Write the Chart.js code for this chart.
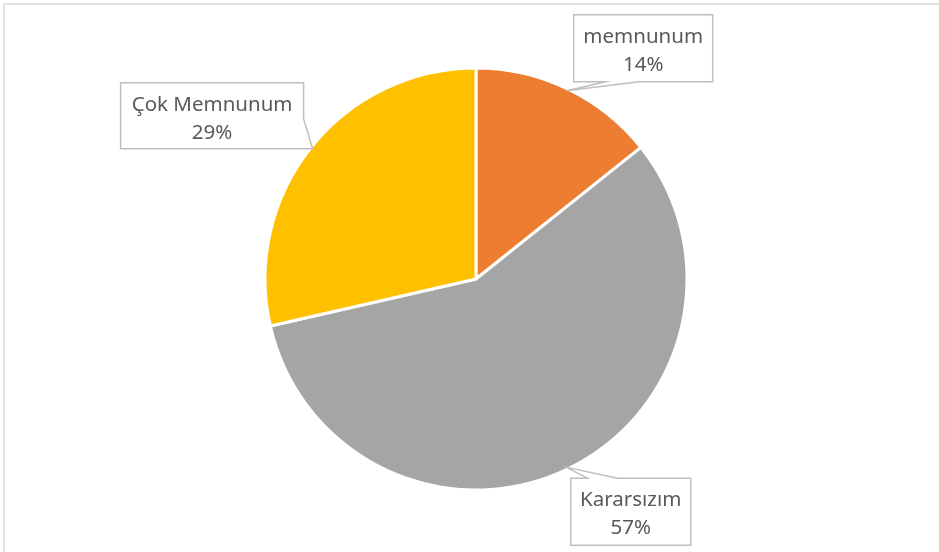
<!DOCTYPE html>
<html>
<head>
<meta charset="utf-8">
<script src="https://cdn.jsdelivr.net/npm/chart.js@4"></script>
<style>
  html, body { margin: 0; padding: 0; background: #fff; }
  #wrap { width: 939px; height: 552px; position: relative; }
</style>
</head>
<body>
<div id="wrap"><canvas id="pieChart"></canvas></div>
<script>
// Data
const categories = ["memnunum", "Kararsızım", "Çok Memnunum"];
const counts = [1, 4, 2];
const sliceColors = ["#ED7D31", "#A5A5A5", "#FFC000"];

// Callout boxes, placed relative to the slice's outer midpoint (tip)
// box: dx, dy, w, h ; base: which edge the pointer leaves from and its span
const callouts = [
  { dx: 7, dy: -76, w: 139, h: 67, edge: "bottom", a: 32, b: 65 },
  { dx: 4, dy: 11, w: 120, h: 67, edge: "top", a: 17, b: 47 },
  { dx: -192, dy: -66, w: 183, h: 66, edge: "right", a: 36, b: 66 }
];

const total = counts.reduce((s, v) => s + v, 0);

// Chart frame border
const framePlugin = {
  id: "frame",
  beforeDraw(chart) {
    const ctx = chart.ctx;
    ctx.save();
    ctx.strokeStyle = "#D9D9D9";
    ctx.lineWidth = 1.5;
    ctx.strokeRect(4, 4, chart.width + 10, chart.height + 10);
    ctx.restore();
  }
};

// Callout labels with pointer
const calloutPlugin = {
  id: "callouts",
  afterDatasetsDraw(chart) {
    const ctx = chart.ctx;
    const arcs = chart.getDatasetMeta(0).data;
    arcs.forEach((arc, i) => {
      const c = callouts[i];
      const mid = (arc.startAngle + arc.endAngle) / 2;
      const r = arc.outerRadius - 2;
      const tx = arc.x + Math.cos(mid) * r;
      const ty = arc.y + Math.sin(mid) * r;
      const x0 = tx + c.dx, y0 = ty + c.dy, x1 = x0 + c.w, y1 = y0 + c.h;

      const pts = [];
      if (c.edge === "bottom") {
        pts.push([x0, y0], [x1, y0], [x1, y1], [x0 + c.b, y1], [tx, ty], [x0 + c.a, y1], [x0, y1]);
      } else if (c.edge === "top") {
        pts.push([x0, y0], [x0 + c.a, y0], [tx, ty], [x0 + c.b, y0], [x1, y0], [x1, y1], [x0, y1]);
      } else {
        pts.push([x0, y0], [x1, y0], [x1, y0 + c.a], [tx, ty], [x1, y0 + c.b], [x0, y1]);
      }

      ctx.save();
      ctx.beginPath();
      pts.forEach((p, k) => (k ? ctx.lineTo(p[0], p[1]) : ctx.moveTo(p[0], p[1])));
      ctx.closePath();
      ctx.fillStyle = "#FFFFFF";
      ctx.fill();
      ctx.strokeStyle = "#BFBFBF";
      ctx.lineWidth = 1.5;
      ctx.stroke();

      const pct = Math.round(counts[i] / total * 100) + "%";
      ctx.fillStyle = "#595959";
      ctx.font = "20.5px 'Noto Sans'";
      ctx.textAlign = "center";
      ctx.textBaseline = "alphabetic";
      const cx = (x0 + x1) / 2;
      ctx.fillText(categories[i], cx, y0 + 28);
      ctx.fillText(pct, cx, y0 + 56);
      ctx.restore();
    });
  }
};

new Chart(document.getElementById("pieChart"), {
  type: "pie",
  data: {
    labels: categories,
    datasets: [{
      data: counts,
      backgroundColor: sliceColors,
      borderColor: "#FFFFFF",
      borderWidth: 3,
      hoverOffset: 0
    }]
  },
  options: {
    responsive: true,
    maintainAspectRatio: false,
    animation: false,
    radius: 211,
    layout: { padding: { left: 263, right: 250, top: 66, bottom: 60 } },
    plugins: {
      legend: { display: false },
      tooltip: { enabled: false }
    }
  },
  plugins: [framePlugin, calloutPlugin]
});
</script>
</body>
</html>
